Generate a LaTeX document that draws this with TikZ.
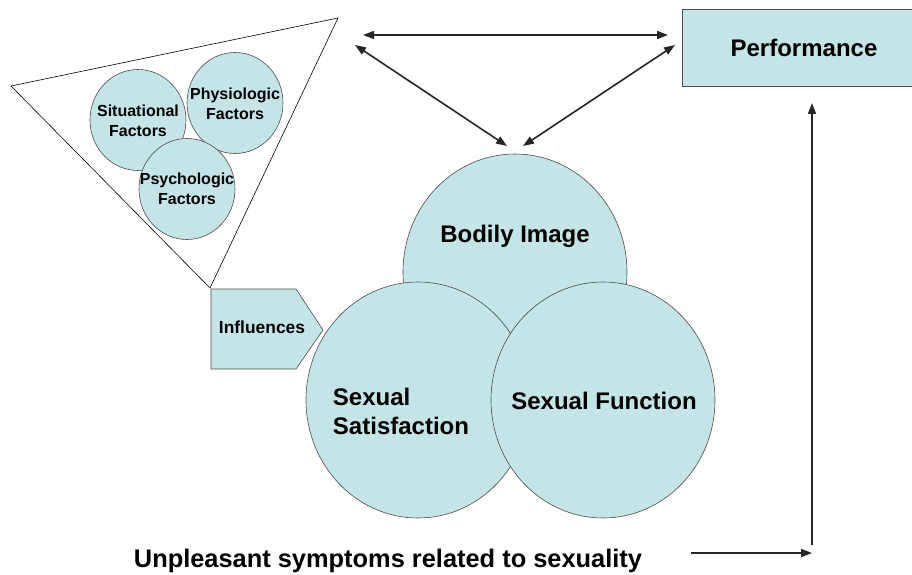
\documentclass[tikz,border=0pt]{standalone}
\usepackage{fontspec}
\setmainfont{Liberation Sans}
\usetikzlibrary{shapes.geometric,arrows.meta}
\definecolor{paleblue}{RGB}{196,228,230}
\tikzset{
  bubble/.style={ellipse, draw=black!70, fill=paleblue, line width=0.6pt, inner sep=0pt},
  smallbubble/.style={bubble, minimum width=96pt, minimum height=101pt},
  bigbubble/.style={bubble, minimum width=224pt, minimum height=236pt},
  smalltext/.style={font=\bfseries\fontsize{16}{20}\selectfont, align=center},
  bigtext/.style={font=\bfseries\fontsize{24}{29}\selectfont, align=left},
  link/.style={line width=1.6pt, black!85},
  tip/.style={-{Triangle[length=11pt,width=8pt]}},
  tips/.style={{Triangle[length=11pt,width=8pt]}-{Triangle[length=11pt,width=8pt]}},
}

\begin{document}
\begin{tikzpicture}[x=1pt,y=-1pt]
      \useasboundingbox (0,0) rectangle (912,575);

      \coordinate (T1) at (11,86);
      \coordinate (T2) at (338,18);
      \coordinate (T3) at (210,288);

      \coordinate (P1) at (211,289);
      \coordinate (P2) at (296,289);
      \coordinate (P3) at (323,330);
      \coordinate (P4) at (296,369);
      \coordinate (P5) at (211,369);

      % EXTREMITES DES FLECHES
      \coordinate (topL) at (363,35);
      \coordinate (topR) at (668,35);
      \coordinate (diagL) at (355,45);
      \coordinate (diagR) at (675,45);
      \coordinate (baseL) at (507,146);
      \coordinate (baseR) at (523,146);
      \coordinate (upEnd) at (812,103);
      \coordinate (corner) at (812,545);
      \coordinate (rightStart) at (691,553);
      \coordinate (rightEnd) at (812,553);

      % TRIANGLE
      \draw[line width=0.6pt] (T1)--(T2)--(T3)--cycle;

      % PETITS CERCLES
      \node[smallbubble] (situational) at (138,120) {};
      \node[smalltext] (situationaltxt) at (138,121) {Situational\\Factors};
      \node[smallbubble] (physiologic) at (235,103) {};
      \node[smalltext] (physiologictxt) at (235,104) {Physiologic\\Factors};
      \node[smallbubble] (psychologic) at (187,189) {};
      \node[smalltext] (psychologictxt) at (187,189) {Psychologic\\Factors};

      % INFLUENCES
      \filldraw[fill=paleblue, draw=black!70, line width=0.6pt] (P1)--(P2)--(P3)--(P4)--(P5)--cycle;
      \node[font=\bfseries\fontsize{17.4}{20}\selectfont] (influences) at (262,327) {Influences};

      % GRANDS CERCLES
      \node[bigbubble] (bodily) at (515,272) {};
      \node[bigtext] (bodilytxt) at (515,236) {Bodily Image};
      \node[bigbubble] (satisfaction) at (418,400) {};
      \node[bigtext] (satisfactiontxt) at (401,411) {Sexual\\Satisfaction};
      \node[bigbubble] (function) at (603,400) {};
      \node[bigtext] (functiontxt) at (604,401) {Sexual Function};

      % PERFORMANCE
      \node[draw=black!70, fill=paleblue, line width=0.8pt, minimum width=244pt, minimum height=77pt,
            font=\bfseries\fontsize{24}{29}\selectfont] (performance) at (804,47.5) {Performance};

      % SYMPTOMES
      \node[anchor=base, font=\bfseries\fontsize{25.4}{30}\selectfont] (symptoms) at (388,567) {Unpleasant symptoms related to sexuality};

      % FLECHES
      \draw[link, tips] (topL)--(topR);
      \draw[link, tips] (diagL)--(baseL);
      \draw[link, tips] (diagR)--(baseR);
      \draw[link, tip] (corner)--(upEnd);
      \draw[link, tip] (rightStart)--(rightEnd);
\end{tikzpicture}
\end{document}
